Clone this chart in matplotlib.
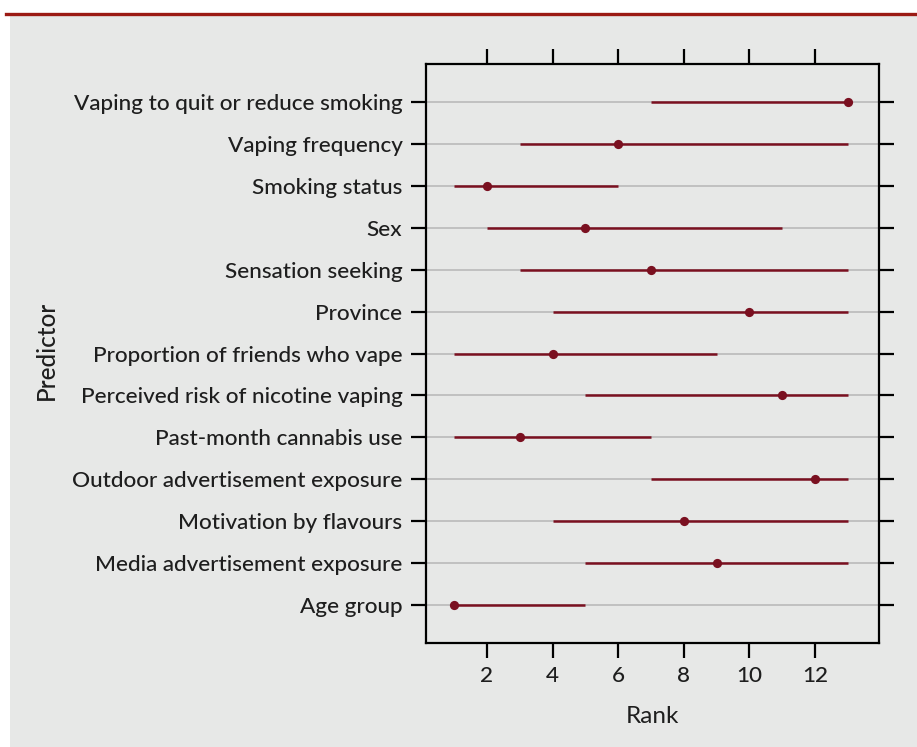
import matplotlib
matplotlib.use("Agg")
import matplotlib.pyplot as plt
from matplotlib.patches import Rectangle
from matplotlib.lines import Line2D

predictors = [
    "Vaping to quit or reduce smoking",
    "Vaping frequency",
    "Smoking status",
    "Sex",
    "Sensation seeking",
    "Province",
    "Proportion of friends who vape",
    "Perceived risk of nicotine vaping",
    "Past-month cannabis use",
    "Outdoor advertisement exposure",
    "Motivation by flavours",
    "Media advertisement exposure",
    "Age group",
]
rank_median = [13, 6, 2, 5, 7, 10, 4, 11, 3, 12, 8, 9, 1]
rank_low = [7, 3, 1, 2, 3, 4, 1, 5, 1, 7, 4, 5, 1]
rank_high = [13, 13, 6, 11, 13, 13, 9, 13, 7, 13, 13, 13, 5]
x_ticks = [2, 4, 6, 8, 10, 12]

plt.rcParams["font.family"] = ["Lato", "DejaVu Sans"]
plt.rcParams["font.weight"] = "medium"

BG = "#e7e8e7"
RED = "#7a1020"
GRID = "#bdbdbd"
TXT = "#1e1e1e"

W, H = 917, 747
fig = plt.figure(figsize=(W / 100, H / 100), dpi=100)
fig.patch.set_facecolor("white")
fig.patches.append(Rectangle((10 / W, 0), 1, 1 - 15 / H, transform=fig.transFigure,
                             facecolor=BG, edgecolor="none", zorder=-10))
fig.lines.append(Line2D([6 / W, 1], [1 - 13.5 / H] * 2, transform=fig.transFigure,
                        color="#9b1a14", linewidth=2.4))

left, right, top, bottom = 426, 878.7, 64.3, 642.7
ax = fig.add_axes([left / W, 1 - bottom / H, (right - left) / W, (bottom - top) / H])
ax.set_facecolor(BG)

n = len(predictors)
ypos = [n - i for i in range(n)]

for y in ypos:
    ax.axhline(y, color=GRID, linewidth=1.3, zorder=1)

ax.hlines(ypos, rank_low, rank_high, color=RED, linewidth=1.8, zorder=2)
ax.scatter(rank_median, ypos, s=44, color=RED, zorder=3, linewidths=0)

ax.set_xlim(0.14, 13.94)
ax.set_ylim(0.11, n + 0.89)
ax.set_xticks(x_ticks)
ax.set_yticks(ypos)
ax.set_yticklabels(predictors)

for s in ax.spines.values():
    s.set_linewidth(1.6)
    s.set_color("black")

ax.tick_params(axis="both", direction="out", length=11, width=1.6, colors="black",
               labelsize=16.2, labelcolor=TXT, top=True, right=True,
               labeltop=False, labelright=False)
ax.tick_params(axis="y", pad=6)
ax.tick_params(axis="x", pad=6)

ax.set_xlabel("Rank", fontsize=17.5, color=TXT, labelpad=14)
fig.text(46.7 / W, 1 - 350 / H, "Predictor", rotation=90, ha="center", va="center",
         fontsize=17.5, color=TXT)

fig.savefig("out.png", dpi=100, facecolor=fig.get_facecolor())
